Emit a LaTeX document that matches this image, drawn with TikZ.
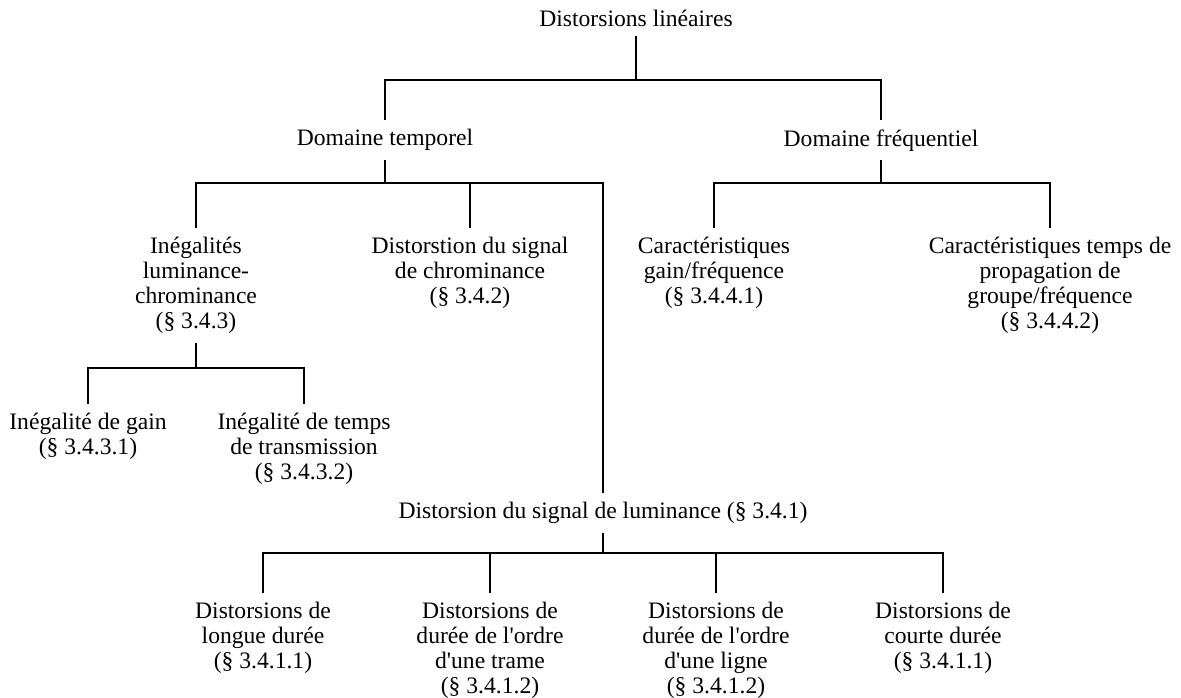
\documentclass[tikz,border=0pt]{standalone}
\usepackage{fontspec}
\setmainfont{Liberation Serif}
\usepackage{tikz}
\tikzstyle{entry} = [anchor=north, align=center, inner xsep=0pt,
                 inner ysep=4.5pt, font=\fontsize{11.8}{12.5}\selectfont]
\tikzstyle{branch} = [draw, line width=0.7pt]

\begin{document}
\begin{tikzpicture}[x=0.5pt, y=-0.5pt]

\useasboundingbox (0,0) rectangle (1181,697);

\node [entry] at (636,1) (root) {Distorsions linéaires};

\node [entry] at (385,120) (temp) {Domaine temporel};
\node [entry] at (881,120) (freq) {Domaine fréquentiel};

\node [entry] at (196,228) (ineg) {Inégalités\\luminance-\\chrominance\\(§ 3.4.3)};
\node [entry] at (470,228) (chro) {Distorstion du signal\\de chrominance\\(§ 3.4.2)};
\node [entry] at (714,228) (gainf) {Caractéristiques\\gain/fréquence\\(§ 3.4.4.1)};
\node [entry] at (1050,228) (tpg) {Caractéristiques temps de\\propagation de\\groupe/fréquence\\(§ 3.4.4.2)};

\node [entry] at (88,404) (igain) {Inégalité de gain\\(§ 3.4.3.1)};
\node [entry] at (304,404) (itemps) {Inégalité de temps\\de transmission\\(§ 3.4.3.2)};

\node [entry] at (603,493) (lumi) {Distorsion du signal de luminance (§ 3.4.1)};

\node [entry] at (263,593) (dlong) {Distorsions de\\longue durée\\(§ 3.4.1.1)};
\node [entry] at (490,593) (dtrame) {Distorsions de\\durée de l\textquotesingle ordre\\d\textquotesingle une trame\\(§ 3.4.1.2)};
\node [entry] at (716,593) (dligne) {Distorsions de\\durée de l\textquotesingle ordre\\d\textquotesingle une ligne\\(§ 3.4.1.2)};
\node [entry] at (943,593) (dcourt) {Distorsions de\\courte durée\\(§ 3.4.1.1)};

% junctions
\coordinate (j0) at (636,80);
\coordinate (jt) at (385,183);
\coordinate (jf) at (881,183);
\coordinate (ji) at (196,368);
\coordinate (jl) at (603,553);

\path [branch] (root.south) -- (j0);
\path [branch] (temp.north) |- (j0) -| (freq.north);

\path [branch] (temp.south) -- (jt);
\path [branch] (ineg.north) |- (jt) -| (lumi.north);
\path [branch] (chro.north) -- (chro.north |- jt);

\path [branch] (freq.south) -- (jf);
\path [branch] (gainf.north) |- (jf) -| (tpg.north);

\path [branch] (ineg.south) -- (ji);
\path [branch] (igain.north) |- (ji) -| (itemps.north);

\path [branch] (lumi.south) -- (jl);
\path [branch] (dlong.north) |- (jl) -| (dcourt.north);
\path [branch] (dtrame.north) -- (dtrame.north |- jl);
\path [branch] (dligne.north) -- (dligne.north |- jl);

\end{tikzpicture}
\end{document}
